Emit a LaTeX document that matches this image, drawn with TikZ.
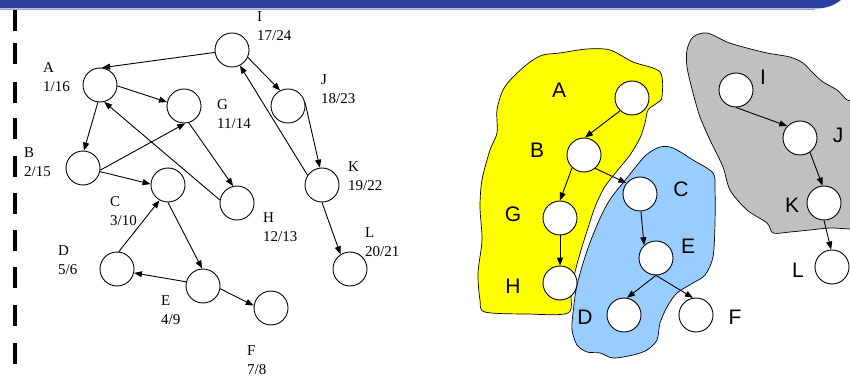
\documentclass[tikz,border=0pt]{standalone}
\usepackage{fontspec}
\setmainfont{Liberation Serif}
\newfontfamily\arialf{Liberation Sans}
\usetikzlibrary{arrows.meta}
\definecolor{barblue}{RGB}{43,64,158}
\definecolor{barline}{RGB}{150,165,215}
\definecolor{blobyellow}{RGB}{255,255,0}
\definecolor{blobblue}{RGB}{153,204,255}
\definecolor{blobgray}{RGB}{192,192,192}
\begin{document}
\begin{tikzpicture}[x=1pt,y=-1pt,
  vtx/.style={circle,draw,fill=white,minimum size=34pt,inner sep=0pt,line width=0.9pt},
  arr/.style={-{Triangle[length=8pt,width=6pt]},line width=0.9pt},
  ltext/.style={align=left,anchor=west,inner sep=0pt,font=\fontsize{15}{19}\selectfont},
  rtext/.style={inner sep=0pt,font=\arialf\fontsize{21}{25}\selectfont},
  blob/.style={draw,line width=0.7pt}]
\useasboundingbox (0,0) rectangle (850,379);
% top bar
\fill[barblue] (0,0) -- (841,0) .. controls (833,6) and (826,8.5) .. (815,8.5) -- (0,8.5) -- cycle;
\draw[barline,line width=1pt] (0,9.5) -- (815,9.5);
% left dashes
\foreach \y in {10,43,82,118,156,193,230,267,305,343}
  \fill[black] (12.5,\y) rectangle (17,\y+21);
% ---------- left graph ----------
\node[vtx] (I) at (232,50) {};
\node[vtx] (A) at (100,85) {};
\node[vtx] (G) at (184,106) {};
\node[vtx] (J) at (288,106) {};
\node[vtx] (B) at (83,168) {};
\node[vtx] (C) at (168,185) {};
\node[vtx] (H) at (237,203) {};
\node[vtx] (K) at (322,185) {};
\node[vtx] (D) at (117,269) {};
\node[vtx] (E) at (203,286) {};
\node[vtx] (F) at (271,308) {};
\node[vtx] (L) at (350,269) {};
\node[ltext] (tI) at (257,26.5) {I\\17/24};
\node[ltext] (tA) at (43,77) {A\\1/16};
\node[ltext] (tG) at (217,114.5) {G\\11/14};
\node[ltext] (tJ) at (321,89.5) {J\\18/23};
\node[ltext] (tB) at (24,162) {B\\2/15};
\node[ltext] (tK) at (348,176) {K\\19/22};
\node[ltext] (tC) at (110,211) {C\\3/10};
\node[ltext] (tH) at (263,227) {H\\12/13};
\node[ltext] (tL) at (365,242.5) {L\\20/21};
\node[ltext] (tD) at (58,260.5) {D\\5/6};
\node[ltext] (tE) at (161,310.5) {E\\4/9};
\node[ltext] (tF) at (247,360.5) {F\\7/8};
\draw[arr] (I.188) -- (A.83);
\draw[arr] (A.-3) -- (G.167);
\draw[arr] (A.263) -- (B.87);
\draw[arr] (B.-7) -- (G.-86);
\draw[arr] (B.-12) -- (C.177);
\draw[arr] (G.-74) -- (H.103);
\draw[arr] (H.170) -- (A.-76);
\draw[arr] (I.-25) -- (J.117);
\draw[arr] (J.10) -- (K.97);
\draw[arr] (K.146) -- (I.-63);
\draw[arr] (K.-90) -- (L.123);
\draw[arr] (D.84) -- (C.-119);
\draw[arr] (C.-90) -- (E.93);
\draw[arr] (E.166) -- (D.-13);
\draw[arr] (E.-9) -- (F.172);
% ---------- right: blobs ----------
\begin{scope}
\clip (0,0) rectangle (850,379);
\draw[blob,fill=blobgray] plot[smooth cycle,tension=0.5] coordinates {
 (693,37) (707,33) (727,42) (743,47) (767,53) (790,57) (803,63) (813,73)
 (823,82) (837,90) (847,100) (862,112) (862,229) (850,229) (830,228) (810,230)
 (790,232) (773,233) (767,223) (747,210) (730,190) (723,167) (710,140)
 (700,117) (693,93) (687,67) (687,50)};
\end{scope}
\draw[blob,fill=blobyellow] plot[smooth cycle,tension=0.5] coordinates {
 (633,62) (660,72) (662,97) (657,103) (648,110) (645,123) (640,138) (630,155)
 (617,171) (604,188) (595,207) (588,228) (581,250) (575,272) (571,292) (568,313)
 (527,314) (485,312) (480,300) (478,273) (482,240) (480,207) (482,180)
 (490,150) (497,133) (497,110) (503,90) (513,77) (530,62) (543,55) (560,53)
 (587,49) (610,50)};
\draw[blob,fill=blobblue] plot[smooth cycle,tension=0.5] coordinates {
 (660,147) (673,148) (693,160) (713,173) (715,190) (715,223) (713,257)
 (705,275) (693,283) (677,293) (667,307) (660,323) (657,340) (647,350)
 (633,355) (613,358) (600,353) (587,352) (577,345) (572,330) (573,313)
 (576,290) (581,270) (588,248) (595,230) (602,214) (611,198) (627,178) (645,156)};
% ---------- right graph ----------
\node[vtx] (rA) at (632,98) {};
\node[vtx] (rB) at (584,155) {};
\node[vtx] (rI) at (736,90) {};
\node[vtx] (rJ) at (800,138) {};
\node[vtx] (rC) at (640,194) {};
\node[vtx] (rG) at (560,218) {};
\node[vtx] (rK) at (824,203) {};
\node[vtx] (rE) at (656,258) {};
\node[vtx] (rH) at (560,283) {};
\node[vtx] (rL) at (832,267) {};
\node[vtx] (rD) at (624,315) {};
\node[vtx] (rF) at (696,315) {};
\node[rtext] (lA) at (559,90) {A};
\node[rtext] (lB) at (537,150) {B};
\node[rtext] (lI) at (763,77) {I};
\node[rtext] (lJ) at (838,135) {J};
\node[rtext] (lC) at (681,189) {C};
\node[rtext] (lG) at (513,214) {G};
\node[rtext] (lK) at (792,205) {K};
\node[rtext] (lE) at (688,246) {E};
\node[rtext] (lH) at (513,286) {H};
\node[rtext] (lL) at (798,270) {L};
\node[rtext] (lD) at (585,317) {D};
\node[rtext] (lF) at (735,317) {F};
\draw[arr] (rA.-133) -- (rB.87);
\draw[arr] (rB.-50) -- (rC.141);
\draw[arr] (rB.-133) -- (rG.90);
\draw[arr] (rG.-90) -- (rH.90);
\draw[arr] (rC.-87) -- (rE.133);
\draw[arr] (rE.-90) -- (rD.80);
\draw[arr] (rE.-90) -- (rF.100);
\draw[arr] (rI.-90) -- (rJ.137);
\draw[arr] (rJ.-55) -- (rK.95);
\draw[arr] (rK.-90) -- (rL.93);
\end{tikzpicture}
\end{document}
